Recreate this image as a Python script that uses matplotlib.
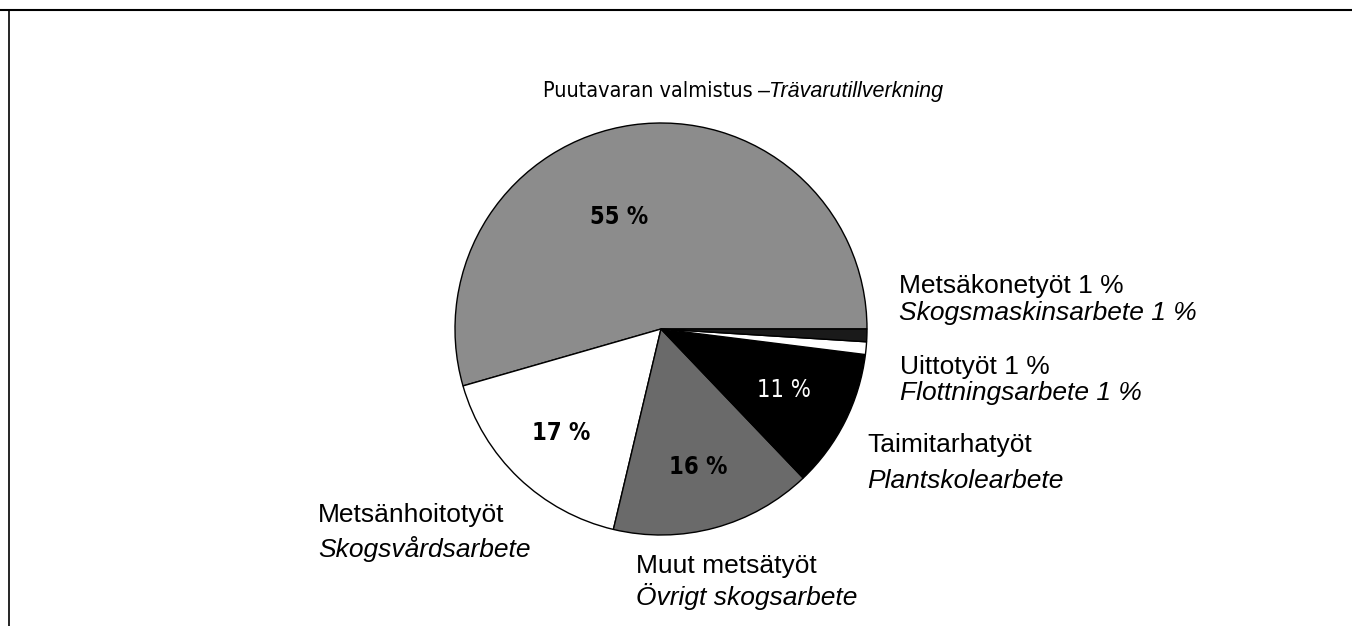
import matplotlib
matplotlib.use("Agg")
import matplotlib.pyplot as plt

# share of forestry work, counterclockwise from 3 o'clock
shares = [55, 17, 16, 11, 1, 1]
pct_labels = ["55 %", "17 %", "16 %", "11 %", "", ""]
fi_names = ["Puutavaran valmistus", "Metsänhoitotyöt", "Muut metsätyöt",
            "Taimitarhatyöt", "Uittotyöt 1 %", "Metsäkonetyöt 1 %"]
sv_names = ["Trävarutillverkning", "Skogsvårdsarbete", "Övrigt skogsarbete",
            "Plantskolearbete", "Flottningsarbete 1 %", "Skogsmaskinsarbete 1 %"]
colors = ["#8c8c8c", "#ffffff", "#6a6a6a", "#000000", "#ffffff", "#1a1a1a"]

W, H = 1352, 626
fig = plt.figure(figsize=(W / 100, H / 100), dpi=100)
ax = fig.add_axes([0, 0, 1, 1])
ax.set_xlim(0, W)
ax.set_ylim(0, H)
ax.set_aspect("equal")
ax.axis("off")

# frame: top and left rules only
ax.plot([0, W], [H - 10, H - 10], color="black", lw=1.5)
ax.plot([9, 9], [0, H - 10], color="black", lw=1.2)

cx, cy, r = 661, H - 329, 206
wedges, _ = ax.pie(shares, colors=colors, startangle=0, counterclock=True,
                   center=(cx, cy), radius=r,
                   wedgeprops=dict(edgecolor="black", linewidth=1.0))
ax.set_xlim(0, W)
ax.set_ylim(0, H)

cond = dict(family="DejaVu Sans", stretch="condensed")
pct_pos = [(619, 217), (561, 433), (698, 467), (784, 390)]
pct_col = ["black", "black", "black", "white"]
pct_wt = ["bold", "bold", "bold", "normal"]
for (x, y), t, c, w in zip(pct_pos, pct_labels, pct_col, pct_wt):
    ax.text(x, H - y, t, ha="center", va="center", fontsize=17,
            color=c, weight=w, **cond)

fs = 19
# top label
ax.text(753, H - 97, fi_names[0], ha="right", va="baseline",
        fontsize=15.5, **cond)
ax.text(757, H - 97, "–" + sv_names[0], ha="left", va="baseline",
        fontsize=15.5, family="Liberation Sans", style="italic")

# x, baseline of Finnish line, baseline of Swedish line
lab_pos = [None, (318, 522, 557), (636, 573, 605), (867, 452, 488),
           (900, 374, 400), (899, 293, 320)]
for i in range(1, 6):
    x, y1, y2 = lab_pos[i]
    ax.text(x, H - y1, fi_names[i], ha="left", va="baseline", fontsize=fs,
            family="Liberation Sans")
    ax.text(x, H - y2, sv_names[i], ha="left", va="baseline", fontsize=fs,
            family="Liberation Sans", style="italic")

fig.savefig("out.png", dpi=100)
